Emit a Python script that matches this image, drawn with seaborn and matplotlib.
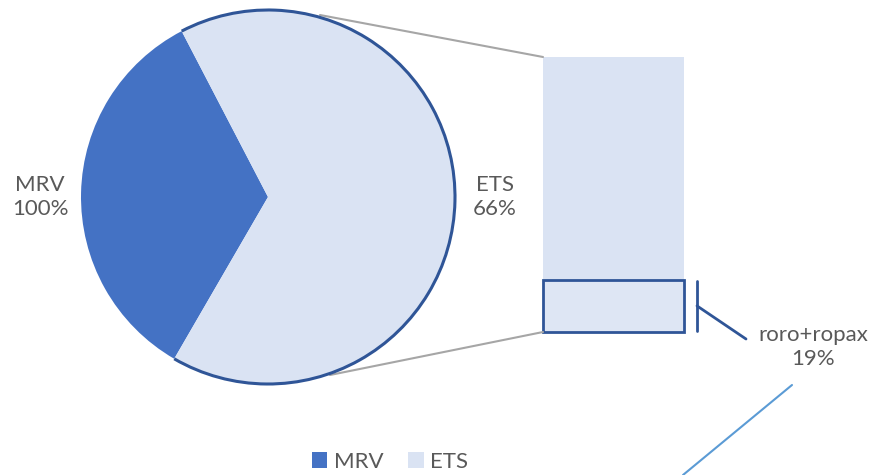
import matplotlib.pyplot as plt
import seaborn as sns
from matplotlib.patches import Arc

# data
pie_labels = ['MRV', 'ETS']
pie_shares = [34, 66]
pie_texts = ['MRV\n100%', 'ETS\n66%']
bar_parts = ['roro+ropax', 'other']
bar_shares = [19, 81]

sns.set_theme(style='white')
plt.rcParams['font.family'] = ['Lato', 'DejaVu Sans']

dark = '#4472C4'
light = '#DAE3F3'
edge = '#2F5597'
grey_txt = '#595959'

fig = plt.figure(figsize=(8.86, 4.75), dpi=100)
ax = fig.add_axes([0, 0, 1, 1])

# pie (pixel-ish coords, y up)
cx, cy, r = 268, 278, 187
wedges, _ = ax.pie(pie_shares, colors=[dark, light], startangle=117.5,
                   center=(cx, cy), radius=r, counterclock=True,
                   wedgeprops=dict(linewidth=0, zorder=2), frame=True)
ax.set_xlim(0, 886)
ax.set_ylim(0, 475)
ax.set_aspect('equal')
ax.axis('off')
ets = wedges[1]
ax.add_patch(Arc((cx, cy), 2 * r, 2 * r, theta1=ets.theta1, theta2=ets.theta2,
                 color=edge, lw=2.2, zorder=5))

ax.text(40, 278, pie_texts[0], ha='center', va='center', fontsize=16,
        color=grey_txt, linespacing=1.25)
ax.text(495, 278, pie_texts[1], ha='center', va='center', fontsize=16,
        color=grey_txt, linespacing=1.25)

# bar of pie
bx, bw, btop, bbot = 543, 141, 418, 143
scale = (btop - bbot) / sum(bar_shares)
h0 = bar_shares[0] * scale
ax.bar(bx + bw / 2, bar_shares[1] * scale, width=bw, bottom=bbot + h0,
       color=light, linewidth=0)
ax.bar(bx + bw / 2, h0, width=bw, bottom=bbot, color='#DEE6F4',
       edgecolor=edge, linewidth=2)

# connector lines (behind the pie)
ax.plot([320, bx], [460, btop], color='#A6A6A6', lw=1.5, zorder=1)
ax.plot([330, bx], [100, bbot], color='#A6A6A6', lw=1.5, zorder=1)

# bracket + label
ax.plot([697, 697], [bbot + 1, bbot + h0 - 1], color=edge, lw=2)
ax.plot([697, 746], [bbot + h0 / 2, 136], color=edge, lw=2)
ax.text(813, 128, f'{bar_parts[0]}\n{bar_shares[0]}%', ha='center',
        va='center', fontsize=16, color=grey_txt, linespacing=1.25)
ax.plot([792, 683], [90, 0], color='#5B9BD5', lw=1.5)

leg = ax.legend(wedges, pie_labels, loc='center', bbox_to_anchor=(390 / 886, 13 / 475),
                ncol=2, frameon=False, fontsize=16, handlelength=0.7,
                handleheight=0.7, handletextpad=0.3, columnspacing=1.1)
for t in leg.get_texts():
    t.set_color(grey_txt)

fig.savefig('out.png', dpi=100)
